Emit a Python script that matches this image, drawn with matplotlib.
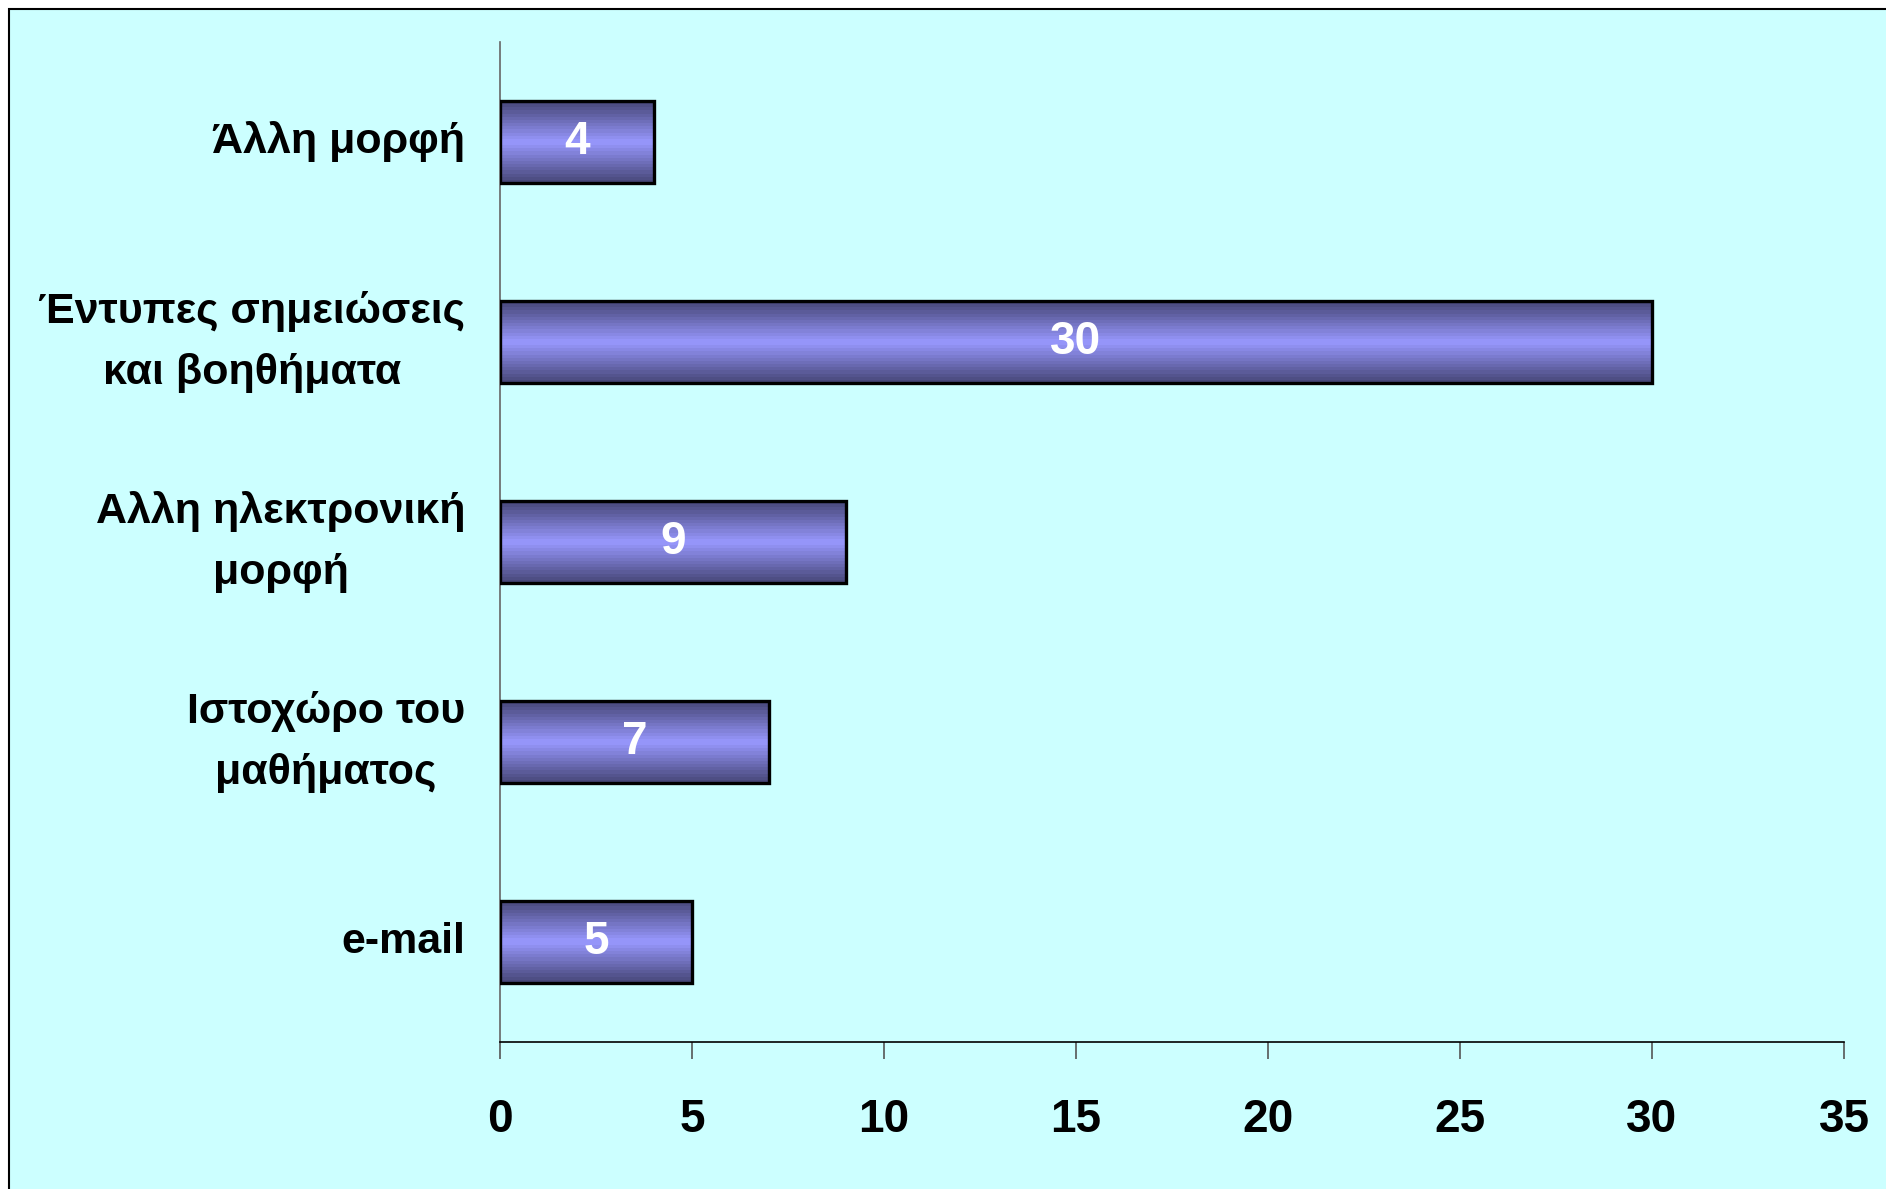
import numpy as np
import matplotlib
matplotlib.use('Agg')
import matplotlib.pyplot as plt
from matplotlib.patches import Rectangle
from matplotlib.colors import LinearSegmentedColormap

categories = ['e-mail', 'Ιστοχώρο του\nμαθήματος', 'Αλλη ηλεκτρονική\nμορφή',
              'Έντυπες σημειώσεις\nκαι βοηθήματα', 'Άλλη μορφή']
values = [5, 7, 9, 30, 4]
xticks = [0, 5, 10, 15, 20, 25, 30, 35]

plt.rcParams['font.family'] = ['Liberation Sans Narrow', 'Liberation Sans', 'DejaVu Sans']
plt.rcParams['font.weight'] = 'bold'

BG = '#CCFFFF'

fig = plt.figure(figsize=(18.86, 11.89), dpi=100, facecolor='white')
# cyan panel with thin frame on top/left
fig.patches.append(Rectangle((9 / 1886, -0.05), 1.1, 1.05 - 9 / 1189,
                             transform=fig.transFigure, facecolor=BG,
                             edgecolor='black', linewidth=1.5, zorder=-10))

ax = fig.add_axes([500 / 1886, 1 - 1042 / 1189, 1344 / 1886, 1000 / 1189])
ax.set_facecolor('none')

ypos = np.arange(len(categories))
bars = ax.barh(ypos, values, height=0.41, facecolor='none',
               edgecolor='black', linewidth=2.4, zorder=3)

# bar gradient: dark edges, light centre
cmap = LinearSegmentedColormap.from_list('barfill', ['#48487a', '#9999ff'])
t = np.linspace(-1, 1, 26)
grad = (1 - np.abs(t))[:, None]
for b in bars:
    x0, y0 = b.get_x(), b.get_y()
    w, h = b.get_width(), b.get_height()
    im = ax.imshow(grad, cmap=cmap, vmin=0, vmax=1, aspect='auto',
                   interpolation='nearest', extent=[x0, x0 + w, y0, y0 + h],
                   origin='lower', zorder=2)
    im.set_clip_path(b)

for y, v in zip(ypos, values):
    ax.text(v / 2, y, str(v), ha='center', va='center', color='white',
            fontsize=33, fontweight='bold', zorder=4)

ax.set_xlim(0, 35)
ax.set_ylim(-0.5, len(categories) - 0.5)
ax.set_xticks(xticks)
ax.set_yticks(ypos)
ax.set_yticklabels(categories, multialignment='center', linespacing=1.7, va='center')
ax.tick_params(axis='y', length=0, pad=25, labelsize=31)
ax.tick_params(axis='x', length=12, width=1.2, color='#555555', pad=28, labelsize=33)

for s in ['top', 'right']:
    ax.spines[s].set_visible(False)
ax.spines['left'].set_color('#666666')
ax.spines['left'].set_linewidth(1.2)
ax.spines['bottom'].set_color('black')
ax.spines['bottom'].set_linewidth(1.2)

fig.savefig('out.png', dpi=100, facecolor='white')
